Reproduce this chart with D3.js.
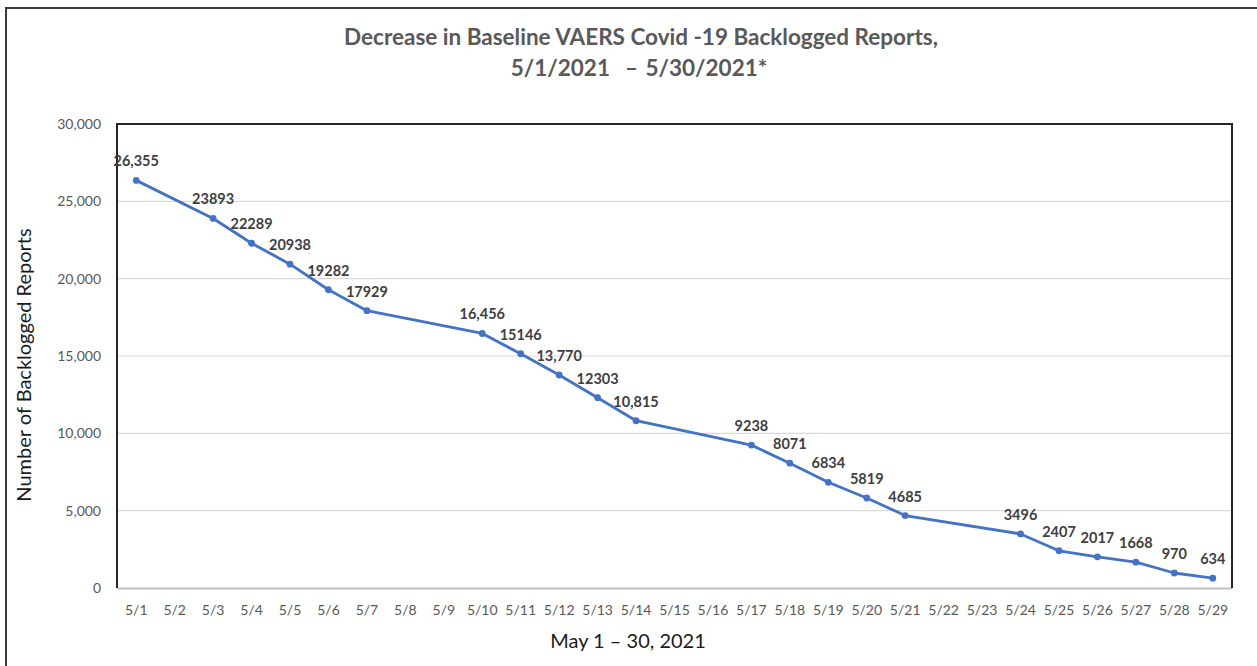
<!DOCTYPE html>
<html>
<head>
<meta charset="utf-8">
<script src="https://cdn.jsdelivr.net/npm/d3@7"></script>
<style>
body{margin:0;background:#fff;}
svg{display:block;font-family:Lato, "Open Sans", sans-serif;}
</style>
</head>
<body>
<svg id="chart" width="1257" height="666"></svg>
<script>
// categories on the x axis (every day shown)
var days = ["5/1","5/2","5/3","5/4","5/5","5/6","5/7","5/8","5/9","5/10","5/11","5/12","5/13","5/14","5/15",
	"5/16","5/17","5/18","5/19","5/20","5/21","5/22","5/23","5/24","5/25","5/26","5/27","5/28","5/29"];

// days that have a reported count
var reportDays = ["5/1","5/3","5/4","5/5","5/6","5/7","5/10","5/11","5/12","5/13","5/14",
	"5/17","5/18","5/19","5/20","5/21","5/24","5/25","5/26","5/27","5/28","5/29"];
var backlog = [26355,23893,22289,20938,19282,17929,16456,15146,13770,12303,10815,
	9238,8071,6834,5819,4685,3496,2407,2017,1668,970,634];
var pointLabels = ["26,355","23893","22289","20938","19282","17929","16,456","15146","13,770","12303","10,815",
	"9238","8071","6834","5819","4685","3496","2407","2017","1668","970","634"];

var yTicks = [0,5000,10000,15000,20000,25000,30000];

var svg = d3.select("#chart");
var plotLeft = 117, plotRight = 1232, plotTop = 124, plotBottom = 588;
var fontName = "Lato, 'Open Sans', sans-serif";

// outer frame
svg.append("rect").attr("x",6).attr("y",8).attr("width",1300).attr("height",700)
	.style("fill","none").style("stroke","#3a3a3a").style("stroke-width",2);

var x = d3.scaleBand().domain(days).range([plotLeft, plotRight]);
var y = d3.scaleLinear().domain([0,30000]).range([plotBottom, plotTop]);

// gridlines
svg.append("g").selectAll("line").data(yTicks.slice(1,-1)).enter().append("line")
	.attr("x1",plotLeft).attr("x2",plotRight)
	.attr("y1",function(d){return y(d);}).attr("y2",function(d){return y(d);})
	.style("stroke","#d9d9d9").style("stroke-width",1.2);

// y axis labels
var yAxis = d3.axisLeft(y).tickValues(yTicks).tickSize(0).tickPadding(16)
	.tickFormat(d3.format(","));
var gy = svg.append("g").attr("transform","translate(" + plotLeft + ",0)").call(yAxis)
	.attr("font-family",fontName);
gy.select(".domain").remove();
gy.selectAll("text").style("font-size","14px").style("fill","#595959");

// x axis
var xAxis = d3.axisBottom(x).tickSize(0).tickPadding(17);
var gx = svg.append("g").attr("transform","translate(0," + plotBottom + ")").call(xAxis)
	.attr("font-family",fontName);
gx.select(".domain").style("stroke","#bfbfbf").style("stroke-width",2);
gx.selectAll("text").style("font-size","14px").style("fill","#595959");

// plot frame (left, top, right)
svg.append("path")
	.attr("d","M" + plotLeft + "," + plotBottom + "V" + plotTop + "H" + plotRight + "V" + plotBottom)
	.style("fill","none").style("stroke","#262626").style("stroke-width",2);

var pts = reportDays.map(function(d,i){
	return {day:d, v:backlog[i], label:pointLabels[i]};
});
function px(d){ return x(d.day) + x.bandwidth()/2; }

var line = d3.line().x(px).y(function(d){return y(d.v);});
svg.append("path").datum(pts).attr("d",line)
	.style("fill","none").style("stroke","#4472c4").style("stroke-width",2.8)
	.style("stroke-linejoin","round");

svg.append("g").selectAll("circle").data(pts).enter().append("circle")
	.attr("cx",px).attr("cy",function(d){return y(d.v);}).attr("r",3.4)
	.style("fill","#4472c4");

svg.append("g").selectAll("text").data(pts).enter().append("text")
	.attr("x",px).attr("y",function(d){return y(d.v) - 14;})
	.attr("text-anchor","middle")
	.style("font-size","14.5px").style("font-weight","bold").style("fill","#404040")
	.text(function(d){return d.label;});

// titles
var title = svg.append("text").attr("text-anchor","middle")
	.style("font-size","22.5px").style("font-weight","bold").style("fill","#595959");
title.append("tspan").attr("x",641).attr("y",45).text("Decrease in Baseline VAERS Covid -19 Backlogged Reports,");
title.append("tspan").attr("x",639).attr("y",76).style("word-spacing","2px")
	.text("5/1/2021 \u00a0\u2013 5/30/2021*");

svg.append("text").attr("x",628).attr("y",648).attr("text-anchor","middle")
	.style("font-size","20px").style("fill","#1a1a1a").text("May 1 \u2013 30, 2021");

svg.append("text").attr("transform","translate(31,365) rotate(-90)").attr("text-anchor","middle")
	.style("font-size","20px").style("fill","#1a1a1a").text("Number of Backlogged Reports");
</script>
</body>
</html>
